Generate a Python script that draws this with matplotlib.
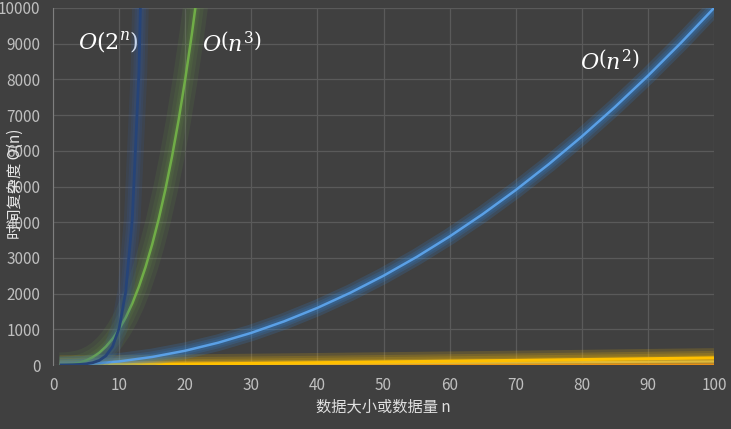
import matplotlib
matplotlib.use("Agg")
import matplotlib.pyplot as plt

plt.rcParams['font.family'] = ['Noto Sans CJK SC', 'DejaVu Sans']
plt.rcParams['mathtext.fontset'] = 'custom'
plt.rcParams['mathtext.it'] = 'DejaVu Serif:italic'
plt.rcParams['mathtext.rm'] = 'DejaVu Serif'

# 数据
n_exp = [1, 2, 3, 4, 5, 6, 7, 8, 9, 10, 11, 12, 13, 14]
v_exp = [2, 4, 8, 16, 32, 64, 128, 256, 512, 1024, 2048, 4096, 8192, 16384]

n_cube = [1, 2, 3, 4, 5, 6, 7, 8, 9, 10, 11, 12, 13, 14, 15, 16, 17, 18, 19, 20, 21, 22]
v_cube = [1, 8, 27, 64, 125, 216, 343, 512, 729, 1000, 1331, 1728, 2197, 2744,
          3375, 4096, 4913, 5832, 6859, 8000, 9261, 10648]

n_sq = [1, 5, 10, 15, 20, 25, 30, 35, 40, 45, 50, 55, 60, 65, 70, 75, 80, 85, 90, 95, 100]
v_sq = [1, 25, 100, 225, 400, 625, 900, 1225, 1600, 2025, 2500, 3025, 3600, 4225,
        4900, 5625, 6400, 7225, 8100, 9025, 10000]

n_nlog = [1, 10, 20, 30, 40, 50, 60, 70, 80, 90, 100]
v_nlog = [0, 10, 26, 44, 64, 85, 107, 129, 152, 176, 200]

n_lin = [1, 100]
v_lin = [1, 100]

n_log = [1, 100]
v_log = [0, 7]

x_ticks = [0, 10, 20, 30, 40, 50, 60, 70, 80, 90, 100]
y_ticks = [0, 1000, 2000, 3000, 4000, 5000, 6000, 7000, 8000, 9000, 10000]

BG = "#404040"


def glow_line(ax, x, y, color, glow, lw=1.8, widths=(14, 10, 7, 4.5), alpha=0.09, z=3):
    # 发光效果: 先画几层宽的半透明线, 再画本线
    for w in widths:
        ax.plot(x, y, color=glow, linewidth=w, alpha=alpha, solid_capstyle="butt", zorder=z)
    ax.plot(x, y, color=color, linewidth=lw, solid_capstyle="butt", zorder=z + 1)


fig = plt.figure(figsize=(7.31, 4.29), dpi=100, facecolor=BG)
ax = fig.add_axes([53 / 731, 1 - 365 / 429, (714 - 53) / 731, (365 - 8) / 429])
ax.set_facecolor(BG)

# 曲线
glow_line(ax, n_log, v_log, "#e07b1f", "#e07b1f", lw=1.6, widths=(5,), alpha=0.25, z=2)
glow_line(ax, n_lin, v_lin, "#c9b86a", "#c9b86a", lw=1.6, widths=(5,), alpha=0.25, z=2)
glow_line(ax, n_nlog, v_nlog, "#ffc000", "#ffc000", lw=2.2, widths=(14, 10, 7, 4), alpha=0.16, z=3)
glow_line(ax, n_sq, v_sq, "#5aa0e6", "#2e8ff0", lw=1.8, widths=(12, 8, 5), alpha=0.16, z=5)
glow_line(ax, n_cube, v_cube, "#70ad47", "#70ad47", lw=1.8, widths=(18, 12, 7, 4), alpha=0.1, z=7)
glow_line(ax, n_exp, v_exp, "#264478", "#2f5fb0", lw=2.0, widths=(12, 8, 5), alpha=0.14, z=9)

ax.set_xlim(0, 100)
ax.set_ylim(0, 10000)
ax.set_xticks(x_ticks)
ax.set_yticks(y_ticks)
ax.grid(True, color="#5a5a5a", linewidth=0.9)
ax.set_axisbelow(True)
for s in ["top", "right", "bottom"]:
    ax.spines[s].set_visible(False)
ax.spines["left"].set_color("#7f7f7f")
ax.tick_params(axis="both", length=0, colors="#bfbfbf", labelsize=11)
ax.tick_params(axis="x", pad=9)
ax.tick_params(axis="y", pad=9)

ax.set_xlabel("数据大小或数据量 n", color="#e0e0e0", fontsize=11, labelpad=3)
fig.text(15 / 731, 1 - 184 / 429, "时间复杂度 O(n)", color="#e6e6e6", fontsize=11,
         rotation=90, ha="center", va="center")

ax.text(3.8, 9050, r"$O(2^n)$", color="white", fontsize=16, ha="left", va="center")
ax.text(22.6, 8980, r"$O\left(n^3\right)$", color="white", fontsize=16, ha="left", va="center")
ax.text(79.7, 8470, r"$O\left(n^2\right)$", color="white", fontsize=16, ha="left", va="center")

fig.savefig("out.png", dpi=100, facecolor=BG)
